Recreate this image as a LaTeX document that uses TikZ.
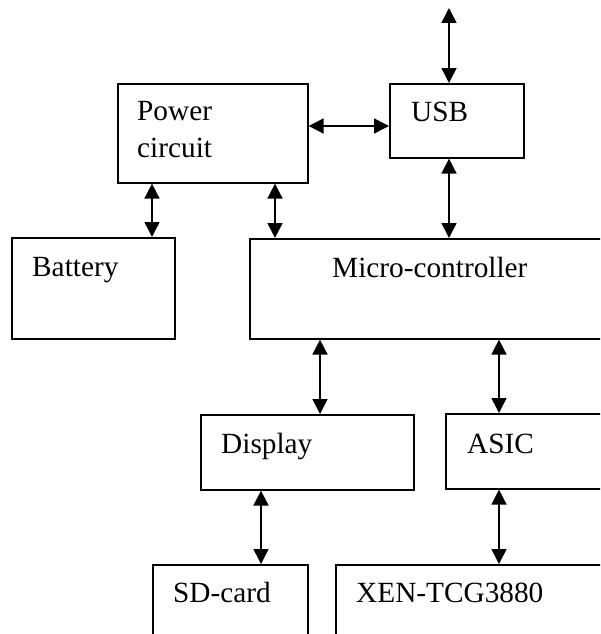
\documentclass[tikz,border=0pt]{standalone}
\usepackage{fontspec}
\setmainfont{Liberation Serif}
\usetikzlibrary{arrows.meta}
\begin{document}
\begin{tikzpicture}[x=1pt,y=-1pt,
  box/.style={draw=black,line width=1.6pt,fill=none,inner sep=0pt,anchor=north west},
  lbl/.style={inner sep=0pt,anchor=base west,font=\fontsize{29.3}{36}\selectfont},
  arr/.style={line width=1.6pt,{Triangle[length=15pt,width=15pt]}-{Triangle[length=15pt,width=15pt]}}]
\useasboundingbox (0,0) rectangle (600,634);
\clip (0,0) rectangle (600,634);
% boxes
\node[box,minimum width=190pt,minimum height=99pt]  (pwr)  at (117,83)  {};
\node[box,minimum width=134pt,minimum height=74pt]  (usb)  at (389,83)  {};
\node[box,minimum width=163pt,minimum height=101pt] (bat)  at (11,237)  {};
\node[box,minimum width=401pt,minimum height=100pt] (mcu)  at (249,238) {};
\node[box,minimum width=213pt,minimum height=75pt]  (disp) at (200,414) {};
\node[box,minimum width=205pt,minimum height=75pt]  (asic) at (445,413) {};
\node[box,minimum width=155pt,minimum height=136pt] (sd)   at (152,564) {};
\node[box,minimum width=315pt,minimum height=136pt] (xen)  at (335,564) {};
% labels
\node[lbl] (tpwr1) at (137,120) {Power};
\node[lbl] (tpwr2) at (137,157) {circuit};
\node[lbl] (tusb)  at (411,121) {USB};
\node[lbl] (tbat)  at (32,276)  {Battery};
\node[lbl] (tmcu)  at (332,277) {Micro-controller};
\node[lbl] (tdisp) at (221,453) {Display};
\node[lbl] (tasic) at (467,453) {ASIC};
\node[lbl] (tsd)   at (173,602) {SD-card};
\node[lbl] (txen)  at (356,602) {XEN-TCG3880};
% x positions of connectors
\coordinate (top) at (449,8);
\coordinate (xa) at (152,0);
\coordinate (xb) at (275,0);
\coordinate (xc) at (449,0);
\coordinate (xd) at (320,0);
\coordinate (xe) at (499,0);
\coordinate (xf) at (261,0);
% connectors
\draw[arr] (top) -- (xc |- usb.north);
\draw[arr] (pwr.east |- 0,126) -- (usb.west |- 0,126);
\draw[arr] (xa |- pwr.south) -- (xa |- bat.north);
\draw[arr] (xb |- pwr.south) -- (xb |- mcu.north);
\draw[arr] (xc |- usb.south) -- (xc |- mcu.north);
\draw[arr] (xd |- mcu.south) -- (xd |- disp.north);
\draw[arr] (xe |- mcu.south) -- (xe |- asic.north);
\draw[arr] (xf |- disp.south) -- (xf |- sd.north);
\draw[arr] (xe |- asic.south) -- (xe |- xen.north);
\end{tikzpicture}
\end{document}
